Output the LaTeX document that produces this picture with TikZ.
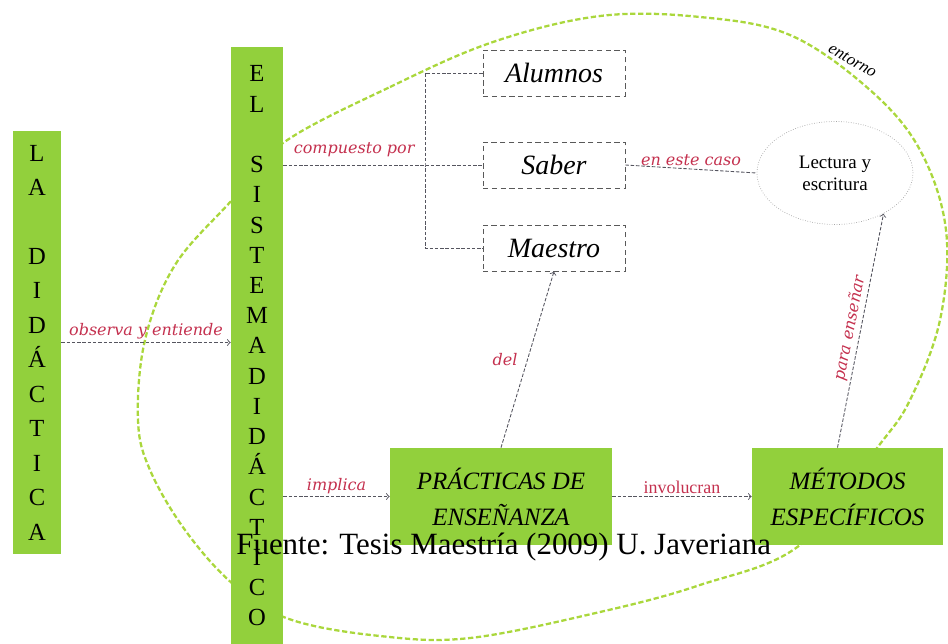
\documentclass[tikz,border=0pt]{standalone}
\usepackage{fontspec}
\setmainfont{Liberation Serif}
\newfontfamily\lblfont{DejaVu Serif}
\usetikzlibrary{shapes.geometric}

\definecolor{bargreen}{RGB}{146,208,60}
\definecolor{entornogreen}{RGB}{170,215,60}
\definecolor{lblred}{RGB}{196,48,78}
\definecolor{conngray}{RGB}{85,85,95}

\begin{document}
\begin{tikzpicture}

    \tikzstyle{bar} = [fill=bargreen, inner sep=0pt, align=center,
        font=\fontsize{14}{19.6}\selectfont]
    \tikzstyle{part} = [draw=black!65, densely dashed, line width=.5pt, fill=white,
        minimum width=2.84cm, minimum height=0.92cm,
        font=\fontsize{15.9}{18}\selectfont\itshape]
    \tikzstyle{act} = [fill=bargreen, minimum height=1.94cm, align=center,
        font=\fontsize{14.2}{20.5}\selectfont\itshape]
    \tikzstyle{conn} = [draw=conngray, dash pattern=on 2pt off 1pt, line width=.5pt]
    \tikzstyle{lbl} = [text=lblred, font=\lblfont\itshape\fontsize{9.1}{11}\selectfont,
        inner sep=1.5pt]

    \useasboundingbox (0,0) rectangle (18.96,-12.86);

    % entorno
    \draw[draw=entornogreen, line width=1.3pt, dash pattern=on 3pt off 1.5pt]
        plot[smooth cycle, tension=0.6] coordinates {
        (5.66,-2.86) (7.8,-1.74) (9.86,-0.84) (12.0,-0.32) (14.0,-0.34)
        (15.8,-0.7) (17.4,-1.8) (18.4,-3.0) (18.92,-4.6) (18.8,-6.4)
        (18.2,-8.0) (17.54,-8.96) (16.0,-10.9) (14.0,-11.7) (12.0,-12.24)
        (9.4,-12.76) (7.6,-12.72) (5.78,-12.38) (4.66,-11.68) (3.7,-10.6)
        (3.0,-9.4) (2.76,-8.4) (2.9,-6.8) (3.5,-5.3) (4.64,-4.0)};
    \node[font=\fontsize{9.6}{11}\selectfont\itshape, rotate=-30] (entorno)
        at (17.05,-1.22) {entorno};

    % la didactica y el sistema
    \node[bar, minimum width=0.96cm, minimum height=8.46cm] (la) at (0.74,-6.85)
        {L\\A\\[19.6pt]D\\I\\D\\Á\\C\\T\\I\\C\\A};
    \node[bar, minimum width=1.04cm, minimum height=11.96cm,
        font=\fontsize{14}{17.2}\selectfont] (el) at (5.14,-6.92)
        {E\\L\\[17.2pt]S\\I\\S\\T\\E\\M\\A\\D\\I\\D\\Á\\C\\T\\I\\C\\O};

    % componentes
    \node[part] (alumnos) at (11.08,-1.46) {Alumnos};
    \node[part] (saber) at (11.08,-3.30) {Saber};
    \node[part] (maestro) at (11.08,-4.96) {Maestro};
    \node[ellipse, draw=black!35, densely dotted, minimum width=3.12cm,
        minimum height=2.06cm, align=center,
        font=\fontsize{10.8}{12.4}\selectfont] (lectura) at (16.70,-3.46)
        {Lectura y\\escritura};

    % practicas y metodos
    \node[act, minimum width=4.44cm] (practicas) at (10.02,-9.93)
        {PRÁCTICAS DE\\ENSEÑANZA};
    \node[act, minimum width=3.82cm] (metodos) at (16.95,-9.93)
        {MÉTODOS\\ESPECÍFICOS};

    % relaciones
    \coordinate (fork) at (8.5,-3.30);
    \draw[conn] (el.east |- saber) -- node[lbl, above=3pt] {compuesto por}
        (fork) -- (saber.west);
    \draw[conn] (alumnos.west) -| (fork) |- (maestro.west);
    \draw[conn] (saber.east) -- node[lbl, above] {en este caso} (lectura.west);

    \draw[conn, arrows=->] (la.east) -- node[lbl, above] {observa y entiende}
        (el.west |- la.east);
    \draw[conn, arrows=->] (el.east |- practicas) -- node[lbl, above] {implica}
        (practicas.west);
    \draw[conn, arrows=->] (practicas.east) -- node[lbl, above,
        font=\fontsize{10.2}{12}\selectfont] {involucran} (metodos.west);
    \draw[conn, arrows=->] (practicas.north) -- node[lbl, left=4pt] {del}
        (maestro.south);
    \draw[conn, arrows=->] ([xshift=-2mm]metodos.north) -- node[lbl, above, sloped]
        {para enseñar} (lectura.-40);

    % fuente
    \node[anchor=base west, inner sep=0pt, font=\fontsize{17.6}{20}\selectfont]
        (fuente) at (4.72,-11.08) {Fuente: Tesis Maestría (2009) U. Javeriana};

\end{tikzpicture}
\end{document}
